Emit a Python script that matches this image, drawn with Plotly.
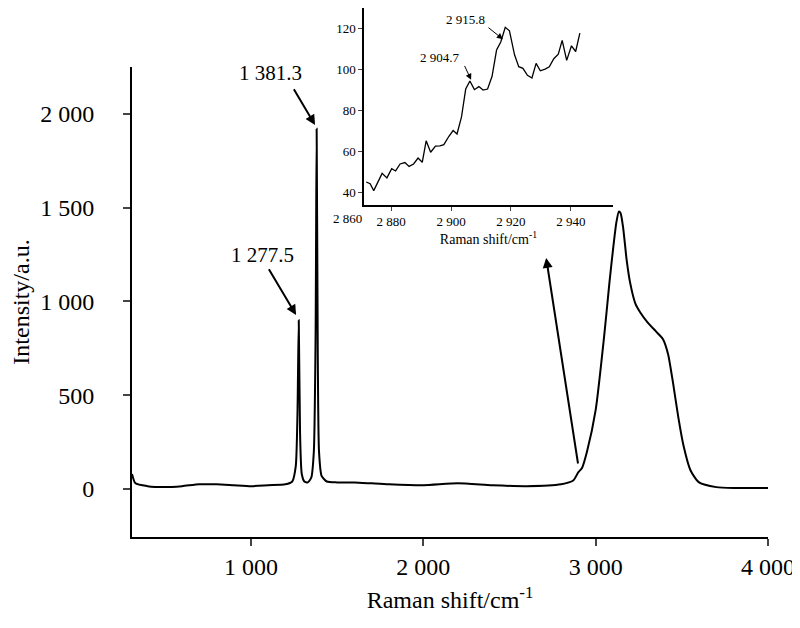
import plotly.graph_objects as go

# main spectrum
shift = [310, 330, 400, 500, 600, 700, 800, 900, 1000, 1100, 1200, 1240, 1260, 1270,
         1277.5, 1285, 1295, 1310, 1330, 1350, 1365, 1375, 1381.3, 1388, 1395, 1410,
         1440, 1500, 1600, 1700, 1800, 2000, 2200, 2400, 2600, 2800, 2870, 2900, 2920,
         2950, 3000, 3050, 3080, 3100, 3120, 3135, 3145, 3160, 3180, 3200, 3230, 3260,
         3300, 3350, 3390, 3420, 3450, 3480, 3510, 3550, 3600, 3700, 3800, 4000]
intensity = [80, 30, 15, 10, 15, 25, 25, 20, 15, 20, 25, 40, 120, 400,
             900, 300, 80, 40, 35, 60, 200, 800, 1920, 700, 200, 70,
             40, 35, 35, 30, 25, 20, 30, 20, 15, 25, 45, 90, 110,
             200, 420, 820, 1100, 1270, 1420, 1480, 1470, 1390, 1220, 1100, 990, 940,
             890, 840, 800, 720, 560, 380, 230, 100, 35, 10, 5, 5]

# inset: 2870-2945 region
ins_x = [2871.7, 2873, 2874.2, 2875.5, 2877, 2878.6, 2880.2, 2881.5, 2883, 2884.6, 2886,
         2887.5, 2889, 2890.4, 2891.7, 2893.2, 2894.8, 2896.3, 2897.6, 2899.3, 2900.7,
         2902, 2903.5, 2904.9, 2906.3, 2907.8, 2909.3, 2910.7, 2912.2, 2913.7, 2915.2,
         2916.6, 2918.1, 2919.5, 2921.2, 2922.6, 2924, 2925.5, 2927, 2928.4, 2929.8,
         2931.4, 2932.8, 2934.3, 2935.8, 2937.1, 2938.6, 2940.2, 2941.6, 2943]
ins_y = [45.2, 44.4, 41, 45.2, 49.4, 47.2, 51.7, 50.6, 54, 54.7, 52.8,
         54, 56.9, 54.8, 65.3, 59.7, 62.7, 62.8, 63.4, 67.5, 70.3,
         68.6, 76.9, 90.5, 94.4, 90.2, 91.7, 90, 90.5, 96.7, 109.5,
         113.4, 120.6, 118.9, 107.2, 101.4, 100.6, 97.2, 95.9, 103, 99.4,
         100.2, 101.3, 105.3, 107.5, 114.2, 104.5, 111.6, 108.8, 117.8]

main_ticks = [1000, 2000, 3000, 4000]
main_ticktext = ["1 000", "2 000", "3 000", "4 000"]
y_ticks = [0, 500, 1000, 1500, 2000]
y_ticktext = ["0", "500", "1 000", "1 500", "2 000"]
ins_ticks = [2880, 2900, 2920, 2940]
ins_ticktext = ["2 880", "2 900", "2 920", "2 940"]
ins_yticks = [40, 60, 80, 100, 120]

FONT = "Liberation Serif, Times New Roman, serif"

fig = go.Figure()
fig.add_trace(go.Scatter(x=shift, y=intensity, mode="lines",
                         line=dict(color="black", width=2, shape="spline", smoothing=0.6),
                         xaxis="x", yaxis="y"))
fig.add_trace(go.Scatter(x=ins_x, y=ins_y, mode="lines",
                         line=dict(color="black", width=1.3), xaxis="x2", yaxis="y2"))

# page has an 8px body margin, so the figure is a bit smaller than the window
fig.update_layout(
    width=792, height=620,
    margin=dict(l=124, r=32, t=0, b=91),
    plot_bgcolor="white", paper_bgcolor="white",
    showlegend=False,
    font=dict(family=FONT, color="black"),
    xaxis=dict(domain=[0, 1], range=[310, 4000], tickvals=main_ticks, ticktext=main_ticktext,
               ticks="outside", ticklen=7, tickwidth=2, showline=True, linewidth=2,
               linecolor="black", showgrid=False, zeroline=False, tickfont=dict(size=24),
               automargin=False,
               title=dict(text="Raman shift/cm<sup>-1</sup>", font=dict(size=24), standoff=12)),
    yaxis=dict(domain=[0, 0.8885], range=[-256, 2250], tickvals=y_ticks, ticktext=y_ticktext,
               ticks="outside", ticklen=7, tickwidth=2, showline=True, linewidth=2,
               linecolor="black", showgrid=False, zeroline=False, tickfont=dict(size=24),
               automargin=False, ticklabelstandoff=24,
               title=dict(text="Intensity/a.u.", font=dict(size=24), standoff=8)),
    xaxis2=dict(domain=[0.365, 0.756], anchor="y2", range=[2871, 2954], tickvals=ins_ticks,
                ticktext=ins_ticktext, ticks="outside", ticklen=4, showline=True,
                linewidth=1.5, linecolor="black", showgrid=False, zeroline=False,
                tickfont=dict(size=13), automargin=False,
                title=dict(text="Raman shift/cm<sup>-1</sup>", font=dict(size=14), standoff=4)),
    yaxis2=dict(domain=[0.6276, 1], anchor="x2", range=[34, 130], tickvals=ins_yticks,
                ticks="outside", ticklen=4, showline=True, linewidth=1.5, linecolor="black",
                showgrid=False, zeroline=False, tickfont=dict(size=13), automargin=False),
)

arrow = dict(showarrow=True, arrowhead=2, arrowsize=1, arrowcolor="black")
fig.add_annotation(x=1262, y=928, ax=1099, ay=1179, xref="x", yref="y", axref="x", ayref="y",
                   text="", arrowwidth=2, **arrow)
fig.add_annotation(x=1070, y=1250, xref="x", yref="y", text="1 277.5", showarrow=False,
                   font=dict(size=21))
fig.add_annotation(x=1372, y=1941, ax=1244, ay=2139, xref="x", yref="y", axref="x", ayref="y",
                   text="", arrowwidth=2, **arrow)
fig.add_annotation(x=1115, y=2220, xref="x", yref="y", text="1 381.3", showarrow=False,
                   font=dict(size=21))
fig.add_annotation(x=2713, y=1232, ax=2899, ay=128, xref="x", yref="y", axref="x", ayref="y",
                   text="", arrowwidth=2, **arrow)
# inset labels
fig.add_annotation(x=2906.7, y=95, ax=2904.3, ay=102.5, xref="x2", yref="y2", axref="x2",
                   ayref="y2", text="", arrowwidth=1, arrowhead=2, arrowsize=1.2,
                   showarrow=True, arrowcolor="black")
fig.add_annotation(x=2896.3, y=106, xref="x2", yref="y2", text="2 904.7", showarrow=False,
                   font=dict(size=13))
fig.add_annotation(x=2917.3, y=114.8, ax=2912, ay=121, xref="x2", yref="y2", axref="x2",
                   ayref="y2", text="", arrowwidth=1, arrowhead=2, arrowsize=1.2,
                   showarrow=True, arrowcolor="black")
fig.add_annotation(x=2904.7, y=124.5, xref="x2", yref="y2", text="2 915.8", showarrow=False,
                   font=dict(size=13))
fig.add_annotation(x=0.313, y=0.6276, xref="paper", yref="paper", yanchor="top", yshift=-4,
                   text="2 860", showarrow=False, font=dict(size=13))

fig.write_html("out.html")
